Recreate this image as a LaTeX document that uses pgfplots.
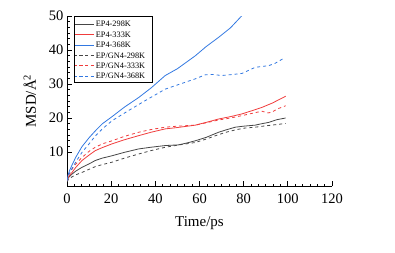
\documentclass[border=0pt]{standalone}
\usepackage{fontspec}
\setmainfont{Liberation Serif}
\usepackage{pgfplots}
\pgfplotsset{compat=1.18}
\definecolor{cblk}{RGB}{70,70,70}
\definecolor{cred}{RGB}{240,60,60}
\definecolor{cblu}{RGB}{50,120,225}
\newcommand\solidline[1]{\textcolor{#1}{\rule[0.26em]{20pt}{1pt}}}
\newcommand\dashline[1]{\textcolor{#1}{\rule[0.26em]{3.2pt}{1pt}\hspace{2.4pt}\rule[0.26em]{3.2pt}{1pt}\hspace{2.4pt}\rule[0.26em]{3.2pt}{1pt}\hspace{2.4pt}\rule[0.26em]{3.2pt}{1pt}}}
\begin{document}
\begin{tikzpicture}[x=1pt,y=1pt]
\path[use as bounding box] (0,0) rectangle (395,252);
\begin{axis}[
  at={(67pt,66pt)}, anchor=south west,
  width=265pt, height=170pt, scale only axis,
  xmin=0, xmax=120, ymin=0, ymax=50,
  axis x line*=bottom, axis y line*=left,
  axis line style={line width=0.8pt,-},
  tick align=inside,
  xtick={0,20,...,120}, ytick={10,20,...,50},
  minor x tick num=5, minor y tick num=5,
  major tick length=5pt, minor tick length=2.5pt,
  tick style={line width=0.7pt,black},
  /pgf/number format/assume math mode=true,
  ticklabel style={font=\fontsize{14.5}{14.5}\selectfont},
  xticklabel style={yshift=-4pt},
  xlabel={Time/ps}, ylabel={MSD/Å\textsuperscript{2}},
  label style={font=\fontsize{15}{15}\selectfont},
  xlabel style={yshift=-6pt},
  ylabel style={yshift=6pt},
  clip=true,
  legend style={at={(0.012,0.99)}, anchor=north west, draw=none, fill=none,
    font=\fontsize{8.3}{8.3}\selectfont, row sep=-0.6pt, inner sep=1.5pt},
  legend cell align=left,
  legend image code/.code={},
  every axis plot/.append style={line width=0.8pt},
]
\addplot[color=cblk] coordinates {(0,1.5) (0.5,2.3) (1,2.7) (2.3,3.5) (4,4.4) (6.8,5.5) (10,6.5) (12.8,7.5) (16,8.2) (20.4,8.9) (26,9.9) (32.4,10.9) (38,11.4) (44.5,11.9) (50.5,12.1) (54,12.6) (58.1,13.3) (63,14.3) (68.6,15.8) (72,16.5) (76.2,17.3) (80,17.6) (85.2,17.9) (88,18.3) (91.3,18.7) (95,19.5) (99,20.0)};
\addlegendentry{\solidline{cblk}\hspace{2pt}EP4-298K}
\addplot[color=cred] coordinates {(0,1.5) (0.5,2.5) (1,3) (2.3,4) (4,5.5) (6.8,7.5) (10,9.1) (12.8,10.4) (16,11.3) (20.4,12.4) (26,13.6) (32.4,14.8) (38,15.8) (44.5,16.8) (50,17.2) (58.1,17.9) (63,18.7) (68.6,19.7) (74,20.4) (79.2,21.2) (84,22.2) (88.2,23.1) (93,24.4) (99,26.4)};
\addlegendentry{\solidline{cred}\hspace{2pt}EP4-333K}
\addplot[color=cblu] coordinates {(0,1.5) (0.5,3.3) (1,4.3) (2.3,6.2) (4,8.5) (6.8,11.6) (10,14.2) (12.8,16.2) (16,18.3) (20.4,20.4) (26,23.2) (32.4,26.0) (38,28.8) (44.5,32.5) (50,34.5) (58.1,38.3) (63,41) (68.6,43.7) (74,46.5) (79.2,50.1) (81,51.5)};
\addlegendentry{\solidline{cblu}\hspace{2pt}EP4-368K}
\addplot[color=cblk, dashed] coordinates {(0,1.2) (0.5,1.8) (1,2.1) (2.3,2.7) (4,3.3) (6.8,4.0) (10,4.9) (12.8,5.7) (16,6.3) (20.4,7.0) (26,8.2) (32.4,9.4) (38,10.4) (44.5,11.4) (50,12.0) (58.1,12.8) (63,13.8) (68.6,15.1) (72,15.8) (76.2,16.5) (80,17.0) (85.2,17.3) (90,17.7) (94,18.0) (99,18.4)};
\addlegendentry{\dashline{cblk}\hspace{2pt}EP/GN4-298K}
\addplot[color=cred, dashed] coordinates {(0,1.5) (0.5,2.8) (1,3.5) (2.3,5) (4,6.5) (6.8,8.4) (10,10.2) (12.8,11.4) (16,12.4) (20.4,13.3) (26,14.6) (32.4,15.8) (38,16.6) (44.5,17.3) (50,17.6) (58.1,17.9) (63,18.6) (68.6,19.4) (74,20) (79.2,20.7) (84,21.4) (88.2,22) (91,21.5) (92.8,21.7) (95,22.6) (99,23.6)};
\addlegendentry{\dashline{cred}\hspace{2pt}EP/GN4-333K}
\addplot[color=cblu, dashed] coordinates {(0,1.5) (0.5,2.9) (1,3.6) (2.3,5.2) (4,7.1) (6.8,9.9) (10,12.4) (12.8,14.7) (16,16.8) (20.4,19.2) (27.9,22.2) (35.4,25.1) (44.5,28.5) (53.5,30.5) (58,31.5) (62.6,32.7) (66,32.8) (70.1,32.5) (75,32.8) (79.2,33.1) (85.2,34.9) (91.3,35.4) (94,36) (98,37.5)};
\addlegendentry{\dashline{cblu}\hspace{2pt}EP/GN4-368K}
\end{axis}
\draw[line width=0.6pt] (74,170) rectangle (152,236);
\end{tikzpicture}
\end{document}
